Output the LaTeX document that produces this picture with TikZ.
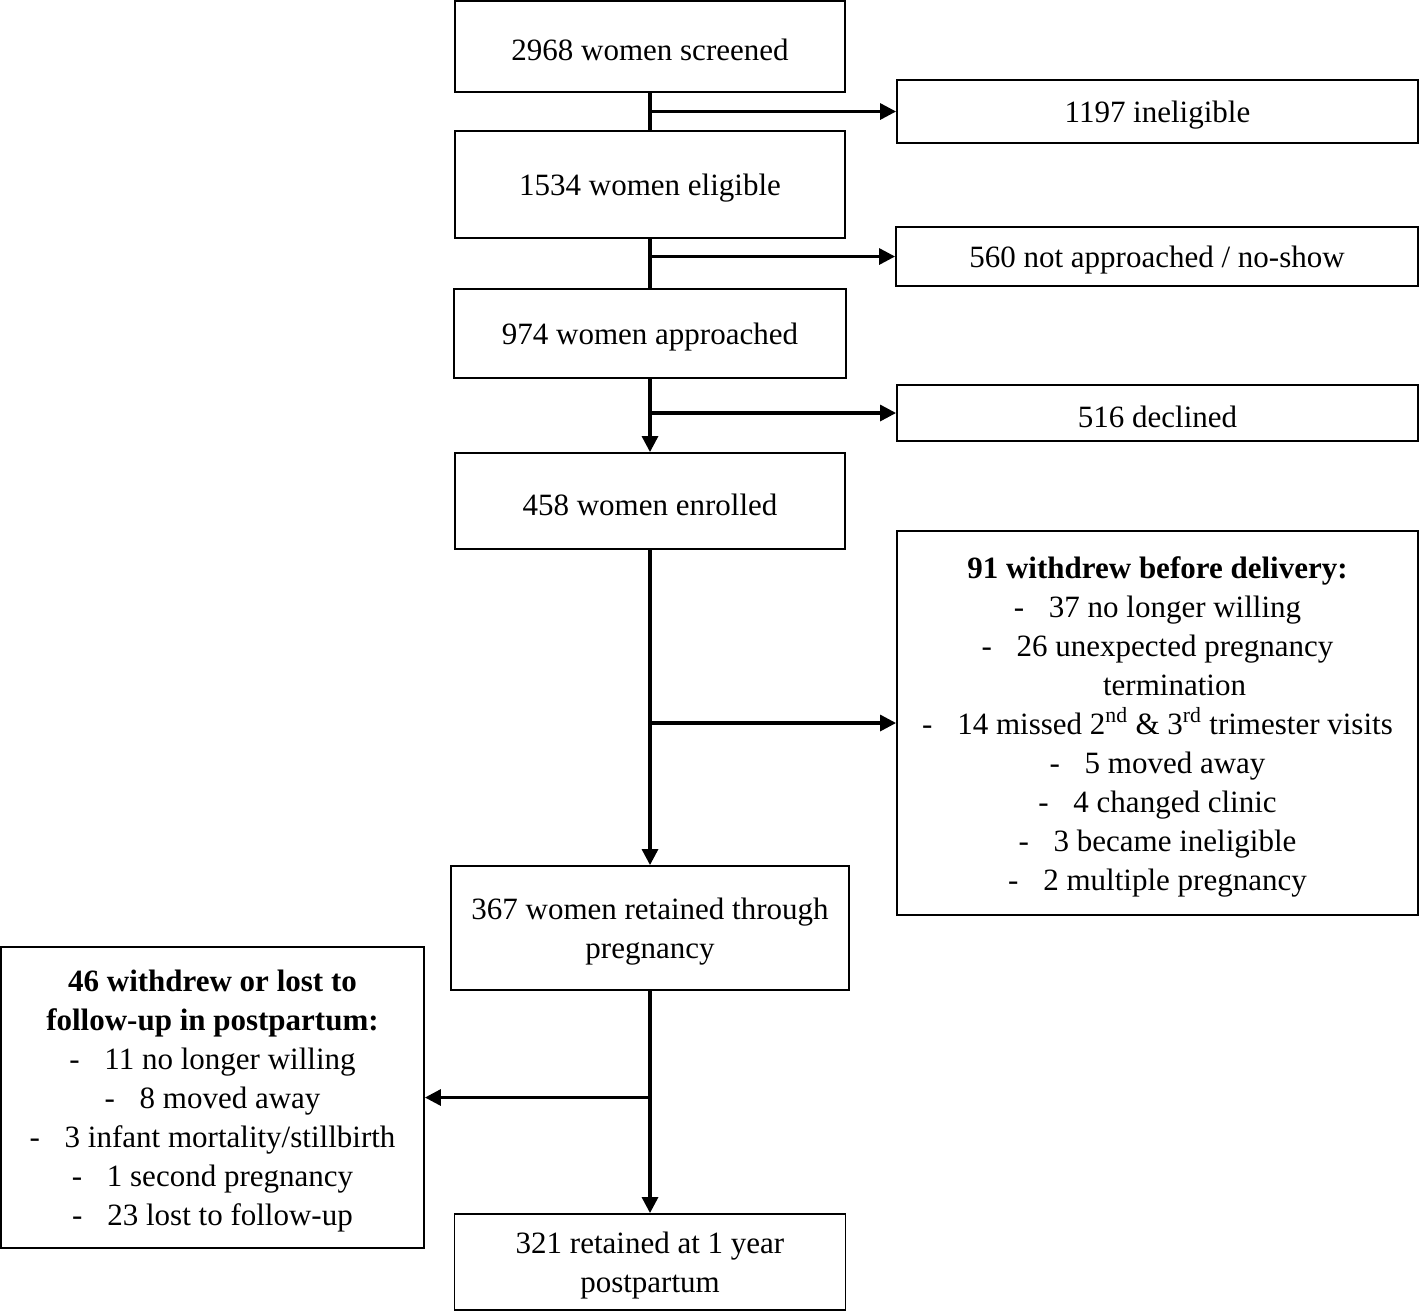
\documentclass[tikz,border=0pt]{standalone}
\usepackage{fontspec}
\setmainfont{Liberation Serif}
\usetikzlibrary{arrows.meta}
\newcommand{\dd}{-\hspace{0.8em}}
\begin{document}
\begin{tikzpicture}[x=0.75pt,y=-0.75pt,
  box/.style={draw,line width=1.4pt,inner sep=0pt},
  txt/.style={inner sep=0pt,align=center,yshift=-2.6pt,
    font=\fontsize{23.25}{29.25}\selectfont},
  conn/.style={line width=2.4pt},
  arr/.style={line width=2.4pt,-{Triangle[length=12pt,width=12pt]}}]
\useasboundingbox (0,0) rectangle (1419,1311);
\node[box,minimum width=390*0.75pt,minimum height=91*0.75pt] (A) at (650,46.5) {};
\node[txt] (At) at (A.center) {2968 women screened};
\node[box,minimum width=521*0.75pt,minimum height=63*0.75pt] (B) at (1157.5,111.5) {};
\node[txt] (Bt) at (B.center) {1197 ineligible};
\node[box,minimum width=390*0.75pt,minimum height=107*0.75pt] (C) at (650,184.5) {};
\node[txt] (Ct) at (C.center) {1534 women eligible};
\node[box,minimum width=522*0.75pt,minimum height=59*0.75pt] (D) at (1157,256.5) {};
\node[txt] (Dt) at (D.center) {560 not approached / no-show};
\node[box,minimum width=392*0.75pt,minimum height=89*0.75pt] (E) at (650,333.5) {};
\node[txt] (Et) at (E.center) {974 women approached};
\node[box,minimum width=521*0.75pt,minimum height=56*0.75pt] (F) at (1157.5,413) {};
\node[txt] (Ft) at (F.center) {516 declined};
\node[box,minimum width=390*0.75pt,minimum height=96*0.75pt] (G) at (650,501) {};
\node[txt] (Gt) at (G.center) {458 women enrolled};
\node[box,minimum width=521*0.75pt,minimum height=384*0.75pt] (H) at (1157.5,723) {};
\node[txt] (Ht) at (H.center) {%
  \textbf{91 withdrew before delivery:}\\
  \dd 37 no longer willing\\
  \dd 26 unexpected pregnancy\\
  \hspace{1.1em}termination\\
  \dd 14 missed 2\textsuperscript{nd} \& 3\textsuperscript{rd} trimester visits\\
  \dd 5 moved away\\
  \dd 4 changed clinic\\
  \dd 3 became ineligible\\
  \dd 2 multiple pregnancy};
\node[box,minimum width=398*0.75pt,minimum height=124*0.75pt] (I) at (650,928) {};
\node[txt] (It) at (I.center) {367 women retained through\\pregnancy};
\node[box,minimum width=423*0.75pt,minimum height=301*0.75pt] (J) at (212.5,1097.5) {};
\node[txt] (Jt) at (J.center) {%
  \textbf{46 withdrew or lost to}\\
  \textbf{follow-up in postpartum:}\\
  \dd 11 no longer willing\\
  \dd 8 moved away\\
  \dd 3 infant mortality/stillbirth\\
  \dd 1 second pregnancy\\
  \dd 23 lost to follow-up};
\node[box,minimum width=391*0.75pt,minimum height=96*0.75pt] (K) at (650,1262) {};
\node[txt] (Kt) at (K.center) {321 retained at 1 year\\postpartum};
\draw[conn] (A.south) -- (C.north);
\draw[arr] (A.south |- B.west) -- (B.west);
\draw[conn] (C.south) -- (E.north);
\draw[arr] (C.south |- D.west) -- (D.west);
\draw[arr] (E.south) -- (G.north);
\draw[arr] (E.south |- F.west) -- (F.west);
\draw[arr] (G.south) -- (I.north);
\draw[arr] (G.south |- H.west) -- (H.west);
\draw[arr] (I.south) -- (K.north);
\draw[arr] (I.south |- J.east) -- (J.east);
\end{tikzpicture}
\end{document}
